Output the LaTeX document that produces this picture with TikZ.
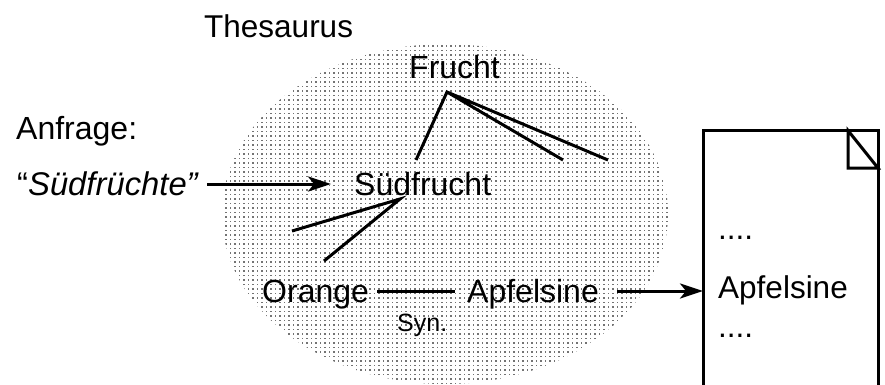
\documentclass[tikz,border=0pt]{standalone}
\usepackage{fontspec}
\setmainfont{Liberation Sans}
\usetikzlibrary{patterns,arrows.meta}
\pgfdeclarepatternformonly{thdots}{\pgfqpoint{-1pt}{-1pt}}{\pgfqpoint{5pt}{5pt}}{\pgfqpoint{4.5pt}{4.5pt}}{%
  \pgfpathrectangle{\pgfqpoint{0pt}{0pt}}{\pgfqpoint{1.5pt}{1.5pt}}%
  \pgfusepath{fill}}
\tikzset{
  lab/.style={inner sep=0pt,anchor=base west,font=\fontsize{32}{36}\selectfont},
  doclab/.style={inner sep=0pt,anchor=base west,font=\fontsize{31.5}{36}\selectfont},
  qlab/.style={inner sep=0pt,anchor=base west,font=\fontsize{32.8}{36}\selectfont},
  small/.style={inner sep=0pt,anchor=base west,font=\fontsize{25}{28}\selectfont},
  conn/.style={line width=3pt},
  arr/.style={line width=3pt,-{Stealth[length=23pt,width=15pt,inset=6pt]}},
  doc/.style={line width=3pt}
}
\begin{document}
\begin{tikzpicture}[x=1pt,y=-1pt]
\useasboundingbox (0,0) rectangle (885,384);
\fill[pattern=thdots,pattern color=black!55] (445,214) ellipse [x radius=223,y radius=170];
\node[doclab] (thes) at (204,37) {Thesaurus};
\node[lab] (fruch) at (409,78) {Frucht};
\node[lab] (anf) at (16,139) {Anfrage:};
\node[qlab] (query) at (17,195) {“\textit{Südfrüchte”}};
\node[lab] (sued) at (354,195) {Südfrucht};
\node[lab] (orange) at (262,302) {Orange};
\node[lab] (apf) at (467,302) {Apfelsine};
\node[small] (syn) at (397,331) {Syn.};
\node[doclab] (d1) at (718,239) {....};
\node[doclab] (dapf) at (718,298) {Apfelsine};
\node[doclab] (d2) at (718,337) {....};
\coordinate (fa) at (447,92);
\coordinate (f1) at (416,160);
\coordinate (f2) at (563,160);
\coordinate (f3) at (608,160);
\coordinate (sa) at (400,199);
\coordinate (s1) at (292,231);
\coordinate (s2) at (324,261);
\coordinate (qe) at (207,184);
\coordinate (se) at (331,184);
\coordinate (oe) at (377,291);
\coordinate (ae) at (455,291);
\coordinate (pe) at (617,291);
\coordinate (de) at (703,291);
\draw[conn] (f1) -- (fa) -- (f2) (fa) -- (f3);
\draw[conn] (s1) -- (sa) -- (s2);
\draw[arr] (qe) -- (se);
\draw[conn] (oe) -- (ae);
\draw[arr] (pe) -- (de);
\draw[doc] (703,390) -- (703,130.5) -- (878,130.5) -- (878,390);
\draw[doc] (848,130.5) -- (878,168) -- (848,168) -- cycle;
\end{tikzpicture}
\end{document}
